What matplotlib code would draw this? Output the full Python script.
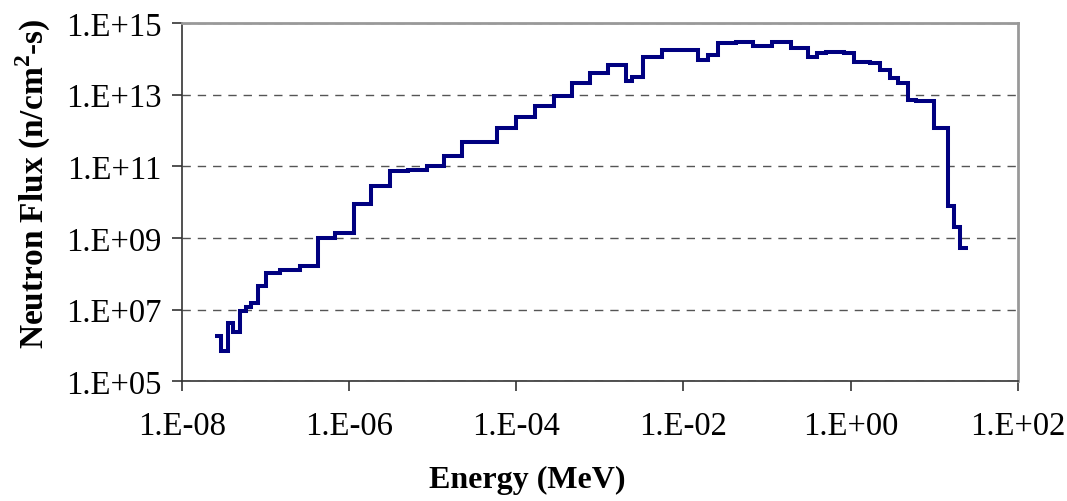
import numpy as np
import matplotlib.pyplot as plt
from matplotlib.ticker import FixedLocator, FuncFormatter, NullLocator

# group boundaries (MeV) and group flux (n/cm2-s)
energia = [2.46e-8, 2.96e-8, 3.56e-8, 4.07e-8, 4.91e-8, 5.78e-8, 6.78e-8, 8.13e-8,
           1.02e-7, 1.48e-7, 2.56e-7, 4.25e-7, 6.85e-7, 1.15e-6, 1.85e-6, 3.06e-6,
           5.07e-6, 8.43e-6, 1.37e-5, 2.21e-5, 5.90e-5, 9.79e-5, 1.69e-4, 2.81e-4,
           4.58e-4, 7.59e-4, 1.26e-3, 2.05e-3, 2.40e-3, 3.30e-3, 5.57e-3, 1.49e-2,
           1.98e-2, 2.61e-2, 4.25e-2, 6.84e-2, 0.1135, 0.193, 0.306, 0.393,
           0.507, 0.834, 1.10, 1.71, 2.25, 2.96, 3.72, 4.91,
           6.07, 9.95, 14.5, 17.3, 20.4, 25.6]

fluxo = [1.88e6, 7.2e5, 4.18e6, 2.34e6, 9.0e6, 1.17e7, 1.51e7, 4.67e7,
         1.04e8, 1.31e8, 1.69e8, 1.0e9, 1.35e9, 8.87e9, 2.88e10, 7.26e10,
         8.04e10, 1.04e11, 1.98e11, 4.86e11, 1.15e12, 2.33e12, 4.90e12, 9.31e12,
         2.07e13, 3.93e13, 6.70e13, 2.35e13, 3.04e13, 1.10e14, 1.78e14, 9.23e13,
         1.27e14, 2.70e14, 2.99e14, 2.31e14, 2.99e14, 2.0e14, 1.10e14, 1.42e14,
         1.57e14, 1.42e14, 8.28e13, 7.46e13, 4.85e13, 2.90e13, 2.07e13, 7.21e12,
         6.50e12, 1.17e12, 7.96e9, 1.99e9, 5.26e8]

xticks = [1e-8, 1e-6, 1e-4, 1e-2, 1e0, 1e2]
yticks = [1e5, 1e7, 1e9, 1e11, 1e13, 1e15]

plt.rcParams['font.family'] = 'Liberation Serif'
plt.rcParams['mathtext.fontset'] = 'custom'
plt.rcParams['mathtext.rm'] = 'Liberation Serif'
plt.rcParams['mathtext.bf'] = 'Liberation Serif:bold'

fig = plt.figure(figsize=(10.67, 5.02), dpi=100)
ax = fig.add_axes([0.1706, 0.2382, 0.9538 - 0.1706, 0.9524 - 0.2382])

ax.stairs(fluxo, energia, baseline=None, color='#000080', linewidth=2.9)

ax.set_xscale('log')
ax.set_yscale('log')
ax.set_xlim(1e-8, 1e2)
ax.set_ylim(1e5, 1e15)

def fmt(v, pos):
    return "1.E%+03d" % int(round(np.log10(v)))

ax.xaxis.set_major_locator(FixedLocator(xticks))
ax.yaxis.set_major_locator(FixedLocator(yticks))
ax.xaxis.set_minor_locator(NullLocator())
ax.yaxis.set_minor_locator(NullLocator())
ax.xaxis.set_major_formatter(FuncFormatter(fmt))
ax.yaxis.set_major_formatter(FuncFormatter(fmt))
ax.tick_params(labelsize=23.5, length=7, width=1.2, color='#333333', direction='out')
ax.tick_params(axis='x', pad=14)
ax.tick_params(axis='y', pad=8)

ax.yaxis.grid(True, linestyle=(0, (6, 5)), color='#555555', linewidth=1)
ax.set_axisbelow(True)

for s in ['top', 'right']:
    ax.spines[s].set_color('#999999')
    ax.spines[s].set_linewidth(2)
for s in ['left', 'bottom']:
    ax.spines[s].set_color('#333333')
    ax.spines[s].set_linewidth(1.2)

# axis titles centred on the whole figure
fig.text(527 / 1067, 1 - 480 / 502, "Energy (MeV)", fontsize=23, fontweight='bold',
         ha='center', va='center')
fig.text(33 / 1067, 1 - 184 / 502, r"Neutron Flux (n/cm$^{\mathbf{2}}$-s)", fontsize=24,
         fontweight='bold', rotation=90, ha='center', va='center')

fig.savefig("out.png", dpi=100)
